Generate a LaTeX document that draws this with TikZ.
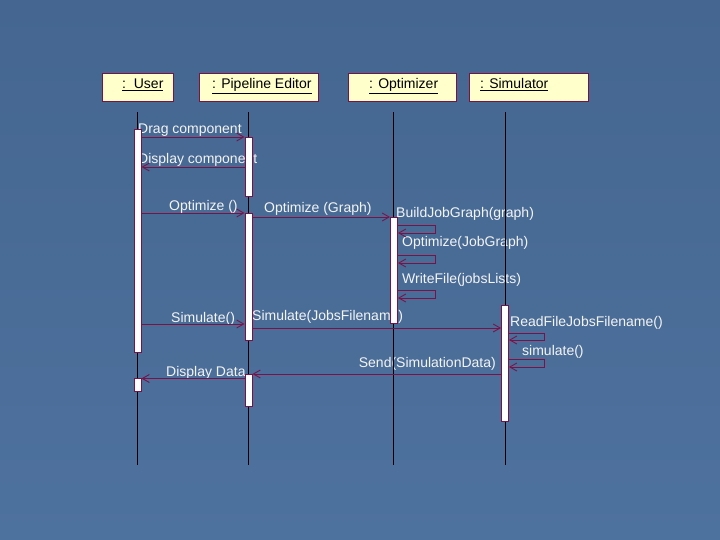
\documentclass[tikz,border=0pt]{standalone}
\usepackage{fontspec}
\setmainfont{Liberation Sans}
\usetikzlibrary{arrows.meta}
\definecolor{bgtop}{RGB}{68,102,144}
\definecolor{bgbot}{RGB}{78,114,158}
\definecolor{maroon}{RGB}{122,18,72}
\definecolor{boxfill}{RGB}{255,255,204}
\definecolor{txt}{RGB}{244,244,244}
\tikzset{
  hdr/.style={draw=maroon, fill=boxfill, line width=0.9pt, inner sep=0pt},
  hdrtxt/.style={text=black, font=\fontsize{14}{16}\selectfont, inner sep=0pt, anchor=base west},
  life/.style={black, line width=0.8pt},
  bar/.style={draw=maroon, fill=white, line width=0.9pt, inner sep=0pt, minimum width=7pt},
  msg/.style={maroon, line width=0.9pt, -{Straight Barb[length=7pt,width=8pt]}},
  lbl/.style={text=txt, font=\fontsize{14}{16}\selectfont, inner sep=0pt},
}
\begin{document}
\begin{tikzpicture}[x=1pt,y=-1pt]
% background
\shade[top color=bgtop, bottom color=bgbot] (0,0) rectangle (720,540);
\useasboundingbox (0,0) rectangle (720,540);

% header boxes
\node[hdr, minimum width=71pt, minimum height=28pt] (hu) at (138,87) {};
\node[hdr, minimum width=119pt, minimum height=28pt] (hp) at (259,87) {};
\node[hdr, minimum width=108pt, minimum height=28pt] (ho) at (402,87) {};
\node[hdr, minimum width=119pt, minimum height=28pt] (hs) at (529,87) {};
\node[hdrtxt] (tu) at (122,89) {\underline{:\ \ User}};
\node[hdrtxt] (tp) at (212,89) {\underline{: Pipeline Editor}};
\node[hdrtxt] (to) at (369,89) {\underline{: Optimizer}};
\node[hdrtxt] (ts) at (480,89) {\underline{: Simulator}};

% labels
\node[lbl, anchor=base west] (l1) at (138,134) {Drag component};
\node[lbl, anchor=base west] (l2) at (138,164) {Display component};
\node[lbl, anchor=base west] (l3) at (169,211) {Optimize ()};
\node[lbl, anchor=base west] (l4) at (264,212) {Optimize (Graph)};
\node[lbl, anchor=base west] (l5) at (396,218) {BuildJobGraph(graph)};
\node[lbl, anchor=base west] (l6) at (402,247) {Optimize(JobGraph)};
\node[lbl, anchor=base west] (l7) at (402,283) {WriteFile(jobsLists)};
\node[lbl, anchor=base west] (l8) at (171,322) {Simulate()};
\node[lbl, anchor=base west] (l9) at (252,320) {Simulate(JobsFilename)};
\node[lbl, anchor=base west] (l10) at (510,326) {ReadFileJobsFilename()};
\node[lbl, anchor=base west] (l11) at (522,355) {simulate()};
\node[lbl, anchor=base east] (l12) at (496,367) {Send(SimulationData)};
\node[lbl, anchor=base west] (l13) at (166,376) {Display Data};

% lifelines
\coordinate (uT) at (137.5,112); \coordinate (uB) at (137.5,465);
\coordinate (pT) at (248.5,112); \coordinate (pB) at (248.5,465);
\coordinate (oT) at (393.5,112); \coordinate (oB) at (393.5,465);
\coordinate (sT) at (505,112);   \coordinate (sB) at (505,465);
\draw[life] (uT) -- (uB);
\draw[life] (pT) -- (pB);
\draw[life] (oT) -- (oB);
\draw[life] (sT) -- (sB);

% activation bars
\node[bar, minimum height=223.5pt] (u1) at (137.5,240.75) {};
\node[bar, minimum height=13.5pt] (u2) at (137.5,385) {};
\node[bar, minimum height=58.5pt] (p1) at (248.5,166.75) {};
\node[bar, minimum height=126.5pt] (p2) at (248.5,276.75) {};
\node[bar, minimum height=31.5pt] (p3) at (248.5,390.25) {};
\node[bar, minimum height=106pt] (o1) at (394,270.5) {};
\node[bar, minimum height=116pt] (s1) at (505,363) {};

% messages
\draw[msg] (u1.east |- 0,137) -- (p1.west |- 0,137);
\draw[msg] (p1.west |- 0,167) -- (u1.east |- 0,167);
\draw[msg] (u1.east |- 0,213) -- (p2.west |- 0,213);
\draw[msg] (p2.east |- 0,217) -- (o1.west |- 0,217);
\draw[msg] (o1.east |- 0,225) -- ++(37,0) |- (o1.east |- 0,233);
\draw[msg] (o1.east |- 0,255) -- ++(37,0) |- (o1.east |- 0,263);
\draw[msg] (o1.east |- 0,290) -- ++(37,0) |- (o1.east |- 0,298);
\draw[msg] (u1.east |- 0,324) -- (p2.west |- 0,324);
\draw[msg] (p2.east |- 0,328) -- (s1.west |- 0,328);
\draw[msg] (s1.east |- 0,333) -- ++(35,0) |- (s1.east |- 0,340);
\draw[msg] (s1.east |- 0,359) -- ++(35,0) |- (s1.east |- 0,367);
\draw[msg] (s1.west |- 0,374) -- (p3.east |- 0,374);
\draw[msg] (p3.west |- 0,378.5) -- (u2.east |- 0,378.5);
\end{tikzpicture}
\end{document}
